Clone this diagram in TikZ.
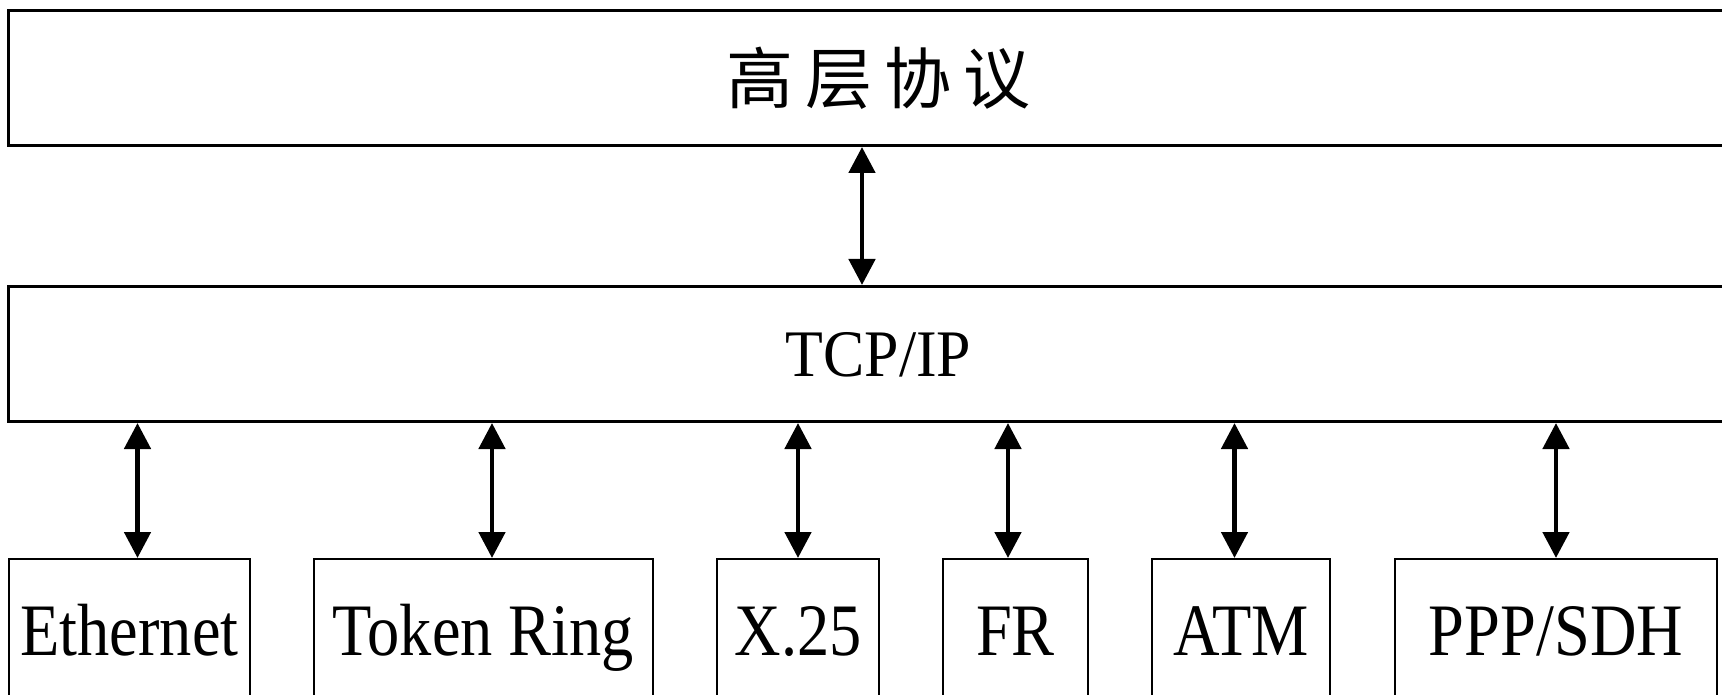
\documentclass[tikz,border=0pt]{standalone}
\usepackage{fontspec}
\setmainfont{Liberation Serif}
\newfontfamily\labfont{Liberation Serif}[FakeStretch=0.87]
\newfontfamily\tcpfont{Liberation Serif}[FakeStretch=0.93]
\newfontfamily\cjkfont{Noto Sans CJK SC}
\usetikzlibrary{arrows.meta}
\begin{document}
\begin{tikzpicture}[x=1pt,y=-1pt,
  layer/.style={draw, line width=3pt, inner sep=0pt, minimum width=1740pt, minimum height=135pt},
  proto/.style={draw, line width=2.2pt, inner sep=0pt, anchor=north, minimum height=143pt,
    text height=49pt, text depth=0pt, font=\labfont\fontsize{74}{74}\selectfont},
  link/.style={line width=4.8pt, {Triangle[width=26pt,length=26pt]}-{Triangle[width=26pt,length=26pt]}}]
\clip (0,0) rectangle (1722,695);
\fill[white] (0,0) rectangle (1722,695);
\node[layer, font=\cjkfont\fontsize{67}{67}\selectfont] (top) at (878.5,78)
  {高\hspace{12pt}层\hspace{12pt}协\hspace{12pt}议};
\node[layer, text height=44pt, text depth=0pt, font=\tcpfont\fontsize{66.5}{66.5}\selectfont] (tcp) at (878.5,354) {TCP/IP};
\node[proto, minimum width=241pt] (eth) at (129.5,558) {Ethernet};
\node[proto, minimum width=339pt] (tr) at (483.5,558) {Token Ring};
\node[proto, minimum width=162pt] (x25) at (798,558) {X.25};
\node[proto, minimum width=145pt] (fr) at (1015.5,558) {FR};
\node[proto, minimum width=178pt] (atm) at (1241,558) {ATM};
\node[proto, minimum width=322pt] (ppp) at (1556,558) {PPP/SDH};
\draw[link] ([xshift=-16.5pt]top.south) -- ([xshift=-16.5pt]top.south |- tcp.north);
\draw[link] ([xshift=8pt]eth.north |- tcp.south) -- ([xshift=8pt]eth.north);
\draw[link] ([xshift=8.5pt]tr.north |- tcp.south) -- ([xshift=8.5pt]tr.north);
\draw[link] (x25.north |- tcp.south) -- (x25.north);
\draw[link] ([xshift=-7.5pt]fr.north |- tcp.south) -- ([xshift=-7.5pt]fr.north);
\draw[link] ([xshift=-6.5pt]atm.north |- tcp.south) -- ([xshift=-6.5pt]atm.north);
\draw[link] (ppp.north |- tcp.south) -- (ppp.north);
\end{tikzpicture}
\end{document}
